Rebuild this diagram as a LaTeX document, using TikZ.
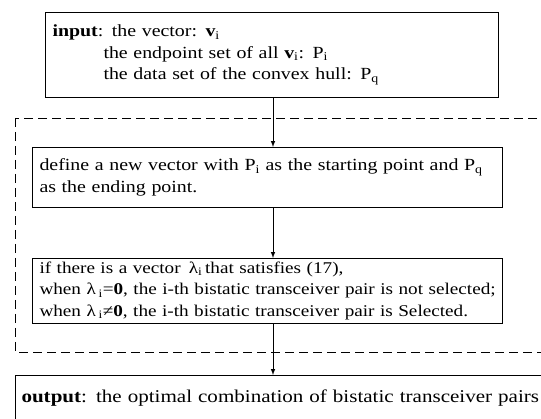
\documentclass[tikz,border=0pt]{standalone}
\usepackage{fontspec}
\setmainfont{Liberation Serif}[FakeStretch=1.17]
\usetikzlibrary{calc}

\tikzset{
  stepbox/.style={draw, line width=1pt, rectangle, align=left, anchor=north west,
    inner xsep=7pt, font=\fontsize{17}{21.5}\selectfont},
  flow/.style={line width=1pt, ->, >=latex},
}

\begin{document}
\begin{tikzpicture}[x=1pt,y=1pt]

          \useasboundingbox (0,0) rectangle (541,-419);
          \clip (0,0) rectangle (541,-419);
          \coordinate (AX) at (273,0); %x of the arrows

          \node[stepbox, text width=439pt, minimum height=85pt] (input) at (45,-12)
            {\textbf{input}: the vector: \textbf{v}\textsubscript{i}\\
             \hspace*{51pt}the endpoint set of all \textbf{v}\textsubscript{i}: P\textsubscript{i}\\
             \hspace*{51pt}the data set of the convex hull: P\textsubscript{q}}; %input
          \draw[dashed, line width=0.8pt, dash pattern=on 9pt off 5pt] (15,-118) rectangle (560,-352); %loop
          \node[stepbox, text width=456pt, minimum height=60pt] (newvec) at (32,-147)
            {define a new vector with P\textsubscript{i} as the starting point and P\textsubscript{q}\\
             as the ending point.}; %step 1
          \node[stepbox, text width=456pt, minimum height=64pt,
            font=\fontsize{16.4}{21.5}\selectfont] (select) at (32,-258)
            {\mbox{if there is a vector \,λ\textsubscript{i}\,that satisfies (17),}\\
             \mbox{when λ\,\textsubscript{i}=\textbf{0}, the i-th bistatic transceiver pair is not selected;}\\
             \mbox{when λ\,\textsubscript{i}≠\textbf{0}, the i-th bistatic transceiver pair is Selected.}}; %step 2
          \node[stepbox, text width=600pt, minimum height=46pt, inner xsep=6pt,
            font=\fontsize{18}{21.5}\selectfont] (output) at (15,-375)
            {\textbf{output}: the optimal combination of bistatic transceiver pairs}; %output

          \draw[flow] (input.south -| AX)--(newvec.north -| AX);
          \draw[flow] (newvec.south -| AX)--(select.north -| AX);
          \draw[flow] (select.south -| AX)--(output.north -| AX);

        \end{tikzpicture}
\end{document}
